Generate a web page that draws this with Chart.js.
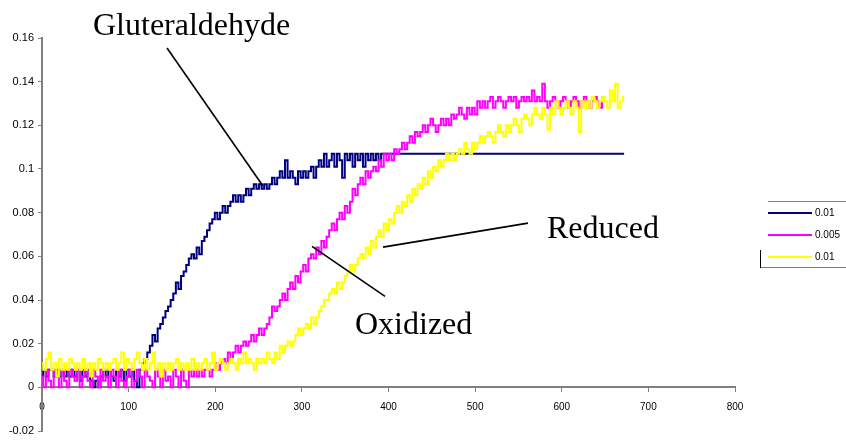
<!DOCTYPE html>
<html>
<head>
<meta charset="utf-8">
<script src="https://cdn.jsdelivr.net/npm/chart.js@4/dist/chart.umd.min.js"></script>
<style>
  body { margin: 0; background: #fff; }
  #wrap { position: relative; width: 846px; height: 443px; overflow: hidden; }
  .note { position: absolute; font-family: "Liberation Serif", "Times New Roman", serif; font-size: 32px; line-height: 32px; color: #000; white-space: nowrap; }
  .lg { position: absolute; }
  .lg-text { position: absolute; font-family: "Liberation Sans", Arial, sans-serif; font-size: 10px; line-height: 12px; color: #000; }
</style>
</head>
<body>
<div id="wrap">
  <canvas id="chart" width="846" height="443"></canvas>
  <div class="note" style="left:93px; top:8px;">Gluteraldehyde</div>
  <div class="note" style="left:547px; top:211px;">Reduced</div>
  <div class="note" style="left:355px; top:307px;">Oxidized</div>
  <div id="legend"></div>
</div>
<script>
// sample times, every 3 units
var time = Array.from({length: 225}, function(_, i) { return i * 3; });

var seriesNames = ['0.01', '0.005', '0.01'];
var seriesColors = ['#000080', '#ff00ff', '#ffff00'];

// Gluteraldehyde
var glut = [
  .005,.008,.005,.008,.008,.005,.008,.005,.008,.005,
  .008,.005,.008,.005,.008,.003,.008,.005,.008,.003,
  0,.003,0,.005,.008,.005,.008,.005,.003,.008,
  .005,.008,.003,.008,.005,.008,.003,0,.008,.011,
  .013,.016,.019,.024,.021,.027,.029,.032,.035,.037,
  .040,.043,.048,.045,.051,.053,.056,.059,.061,.059,
  .064,.061,.067,.069,.072,.075,.077,.080,.077,.080,
  .083,.080,.083,.085,.088,.085,.088,.085,.088,.091,
  .088,.091,.093,.091,.093,.091,.093,.091,.093,.096,
  .093,.096,.099,.096,.104,.096,.099,.096,.093,.099,
  .096,.099,.096,.099,.101,.096,.101,.104,.101,.107,
  .101,.104,.107,.101,.107,.104,.096,.107,.104,.107,
  .101,.107,.104,.107,.101,.107,.104,.107,.104,.107,
  .104,.107,.107,.107,.107,.107,.107,.107,.107,.107,
  .107,.107,.107,.107,.107,.107,.107,.107,.107,.107,
  .107,.107,.107,.107,.107,.107,.107,.107,.107,.107,
  .107,.107,.107,.107,.107,.107,.107,.107,.107,.107,
  .107,.107,.107,.107,.107,.107,.107,.107,.107,.107,
  .107,.107,.107,.107,.107,.107,.107,.107,.107,.107,
  .107,.107,.107,.107,.107,.107,.107,.107,.107,.107,
  .107,.107,.107,.107,.107,.107,.107,.107,.107,.107,
  .107,.107,.107,.107,.107,.107,.107,.107,.107,.107,
  .107,.107,.107,.107,.107
];

// Oxidized
var oxid = [
  .005,0,.008,.003,0,.008,.005,0,.008,.003,
  0,.008,.005,.003,.008,0,.005,.008,.003,0,
  .008,.005,0,.008,.003,.005,0,.008,.005,0,
  .008,.003,0,.005,.008,0,.003,.008,.005,0,
  .008,.005,.003,0,.008,.005,0,.008,.003,.005,
  0,.008,.005,0,.008,.003,0,.008,.005,.008,
  .005,.008,.005,.008,.008,.005,.008,.011,.008,.011,
  .013,.011,.016,.013,.016,.019,.016,.019,.021,.019,
  .021,.024,.021,.024,.027,.024,.027,.029,.032,.037,
  .035,.037,.040,.043,.040,.045,.048,.045,.051,.048,
  .053,.056,.053,.059,.061,.059,.064,.061,.067,.064,
  .069,.072,.075,.072,.077,.080,.077,.083,.080,.085,
  .091,.088,.093,.096,.093,.099,.096,.099,.101,.099,
  .104,.101,.107,.104,.107,.104,.109,.107,.109,.112,
  .109,.112,.115,.112,.117,.115,.117,.120,.117,.120,
  .123,.120,.117,.120,.123,.120,.123,.120,.125,.123,
  .125,.128,.125,.123,.128,.125,.128,.125,.131,.128,
  .131,.128,.131,.133,.128,.131,.133,.131,.128,.131,
  .133,.131,.133,.128,.131,.133,.131,.133,.131,.136,
  .131,.133,.131,.139,.131,.128,.131,.133,.131,.128,
  .131,.133,.131,.128,.131,.133,.131,.128,.131,.133,
  .131,.128,.131,.133,.131,.128,.131
];

// Reduced
var reduc = [
  .011,.008,.013,.016,.008,.011,.005,.013,.008,.011,
  .008,.013,.011,.008,.011,.008,.013,.008,.011,.005,
  .011,.008,.013,.011,.008,.011,.008,.011,.013,.008,
  .011,.016,.008,.013,.011,.008,.013,.016,.011,.008,
  .013,.008,.011,.016,.008,.011,.005,.011,.008,.011,
  .008,.011,.013,.008,.011,.008,.011,.008,.013,.008,
  .011,.008,.011,.013,.008,.011,.016,.008,.011,.013,
  .011,.008,.011,.013,.011,.008,.013,.011,.016,.011,
  .013,.011,.008,.013,.011,.013,.011,.016,.013,.011,
  .016,.013,.019,.016,.019,.021,.019,.021,.024,.027,
  .024,.027,.029,.027,.032,.029,.032,.035,.037,.040,
  .040,.043,.045,.043,.048,.045,.048,.051,.053,.056,
  .053,.056,.059,.061,.059,.064,.061,.067,.064,.069,
  .072,.069,.075,.072,.077,.075,.080,.083,.080,.085,
  .083,.088,.085,.091,.088,.093,.091,.096,.093,.099,
  .096,.101,.099,.104,.101,.104,.107,.104,.107,.104,
  .107,.109,.107,.112,.109,.107,.112,.109,.112,.115,
  .112,.115,.117,.115,.112,.117,.120,.117,.115,.120,
  .117,.120,.123,.120,.117,.123,.125,.123,.120,.125,
  .128,.125,.123,.128,.125,.118,.128,.125,.131,.128,
  .125,.128,.131,.128,.125,.131,.128,.117,.131,.128,
  .131,.128,.133,.131,.128,.131,.133,.131,.128,.136,
  .131,.139,.128,.131,.133
];

var xTicks = [0, 100, 200, 300, 400, 500, 600, 700, 800];
var yTicks = [-0.02, 0, 0.02, 0.04, 0.06, 0.08, 0.1, 0.12, 0.14, 0.16];

// leader lines for the text notes, in data units
var leaders = [
  [[144.3, 0.1554], [255.1, 0.0922]],
  [[393.7, 0.0642], [561.0, 0.0752]],
  [[311.7, 0.0646], [396.0, 0.0417]]
];

function toPoints(values) {
  return values.map(function(v, i) { return {x: time[i], y: v}; });
}

var leaderPlugin = {
  id: 'leaders',
  afterDatasetsDraw: function(chart) {
    var ctx = chart.ctx;
    var xs = chart.scales.x, ys = chart.scales.y;
    ctx.save();
    ctx.strokeStyle = '#000';
    ctx.lineWidth = 1.6;
    leaders.forEach(function(l) {
      ctx.beginPath();
      ctx.moveTo(xs.getPixelForValue(l[0][0]), ys.getPixelForValue(l[0][1]));
      ctx.lineTo(xs.getPixelForValue(l[1][0]), ys.getPixelForValue(l[1][1]));
      ctx.stroke();
    });
    ctx.restore();
  }
};

var allSeries = [glut, oxid, reduc];
var datasets = allSeries.map(function(vals, k) {
  return {
    label: seriesNames[k],
    data: toPoints(vals),
    borderColor: seriesColors[k],
    backgroundColor: seriesColors[k],
    borderWidth: 2,
    pointRadius: 0,
    stepped: 'middle',
    fill: false,
    order: 2 - k
  };
});

var tickFont = {family: '"Liberation Sans", Arial, sans-serif', size: 10};

new Chart(document.getElementById('chart'), {
  type: 'line',
  data: {datasets: datasets},
  options: {
    responsive: false,
    animation: false,
    layout: {padding: {top: 38, right: 111, bottom: 12, left: 0}},
    plugins: {legend: {display: false}, tooltip: {enabled: false}},
    scales: {
      x: {
        type: 'linear',
        position: {y: 0},
        min: 0, max: 800,
        afterBuildTicks: function(s) { s.ticks = xTicks.map(function(v) { return {value: v}; }); },
        ticks: {color: '#000', font: tickFont, padding: 10, maxRotation: 0,
          callback: function(v) { return String(v); }},
        grid: {drawOnChartArea: false, tickLength: 4, color: '#808080', lineWidth: 1},
        border: {color: '#808080', width: 2}
      },
      y: {
        min: -0.02, max: 0.16,
        afterBuildTicks: function(s) { s.ticks = yTicks.map(function(v) { return {value: v}; }); },
        afterFit: function(s) { s.width = 42; },
        ticks: {color: '#000', font: {family: tickFont.family, size: 11}, padding: 4,
          callback: function(v) { return String(parseFloat(v.toFixed(2))); }},
        grid: {drawOnChartArea: false, tickLength: 4, color: '#808080', lineWidth: 1},
        border: {color: '#808080', width: 2}
      }
    }
  },
  plugins: [leaderPlugin]
});

// legend box, drawn in html
var legend = document.getElementById('legend');
function box(left, top, w, h, color) {
  var d = document.createElement('div');
  d.className = 'lg';
  d.style.cssText = 'left:' + left + 'px;top:' + top + 'px;width:' + w + 'px;height:' + h + 'px;background:' + color + ';';
  legend.appendChild(d);
}
box(768, 201, 78, 1, '#808080');
box(760, 267, 86, 1, '#808080');
box(760, 250, 1, 18, '#000');
var rowY = [213, 235, 257];
seriesNames.forEach(function(name, k) {
  box(768, rowY[k] - 1, 44, 2, seriesColors[k]);
  var t = document.createElement('div');
  t.className = 'lg-text';
  t.style.left = '815px';
  t.style.top = (rowY[k] - 6) + 'px';
  t.textContent = name;
  legend.appendChild(t);
});
</script>
</body>
</html>
